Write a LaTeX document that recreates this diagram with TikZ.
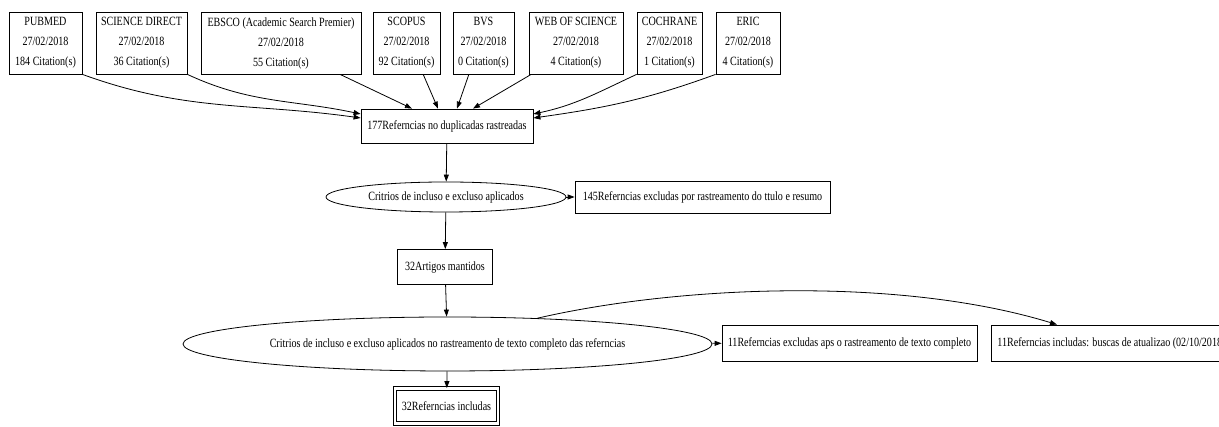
\documentclass[tikz,border=0pt]{standalone}
\usepackage{fontspec}
\setmainfont{Liberation Serif}[FakeStretch=0.8]
\usetikzlibrary{arrows.meta,shapes.geometric}

\begin{document}
\begin{tikzpicture}[x=1pt,y=1pt,
    base/.style ={draw, line width=0.8pt, font=\fontsize{12.6}{20}\selectfont, inner sep=0pt},
    source/.style ={base, rectangle, align=center, minimum height=62pt},
    stage/.style ={base, rectangle, minimum height=34pt},
    filter/.style ={base, ellipse},
    flow/.style ={line width=0.8pt, -{Triangle[length=7pt,width=5pt]}}]
   \useasboundingbox (0,0) rectangle (1219,427);

   % bases de dados
   \node[source, minimum width=73pt]  (pubmed)   at (45.5,384)  {PUBMED\\27/02/2018\\184 Citation(s)};
   \node[source, minimum width=91pt]  (scidir)   at (141.5,384) {SCIENCE DIRECT\\27/02/2018\\36 Citation(s)};
   \node[source, minimum width=160pt] (ebsco)    at (281,384)   {EBSCO (Academic Search Premier)\\27/02/2018\\55 Citation(s)};
   \node[source, minimum width=67pt]  (scopus)   at (406.5,384) {SCOPUS\\27/02/2018\\92 Citation(s)};
   \node[source, minimum width=61pt]  (bvs)      at (483.5,384) {BVS\\27/02/2018\\0 Citation(s)};
   \node[source, minimum width=94pt]  (wos)      at (576,384)   {WEB OF SCIENCE\\27/02/2018\\4 Citation(s)};
   \node[source, minimum width=65pt]  (cochrane) at (669.5,384) {COCHRANE\\27/02/2018\\1 Citation(s)};
   \node[source, minimum width=64pt]  (eric)     at (748,384)   {ERIC\\27/02/2018\\4 Citation(s)};

   % etapas
   \node[stage, minimum width=172pt] (refs)    at (447,301)   {177Referncias no duplicadas rastreadas};
   \node[filter, minimum width=240pt, minimum height=30pt] (crit1) at (446,230) {Critrios de incluso e excluso aplicados};
   \node[stage, minimum width=255pt, minimum height=32pt] (excl1) at (702.5,230) {145Referncias excludas por rastreamento do ttulo e resumo};
   \node[stage, minimum width=95pt, minimum height=35pt]  (artigos) at (445,160) {32Artigos mantidos};
   \node[filter, minimum width=529pt, minimum height=54pt] (crit2) at (447.5,83) {Critrios de incluso e excluso aplicados no rastreamento de texto completo das referncias};
   \node[stage, minimum width=255pt, minimum height=36pt] (excl2) at (849.5,84) {11Referncias excludas aps o rastreamento de texto completo};
   \node[stage, minimum height=36pt, anchor=west, inner xsep=6pt] (incl2) at (991,84) {11Referncias includas: buscas de atualizao (02/10/2018)};
   \node[stage, double, double distance=2.5pt, minimum width=103pt, minimum height=35pt] (final) at (446.5,21) {32Referncias includas};

   \draw[flow] (pubmed.south east) to[out=-20,in=172] ([yshift=8pt]refs.west);
   \draw[flow] (scidir.south east) to[out=-25,in=168] ([yshift=12pt]refs.west);
   \draw[flow] (ebsco.-28) to ([xshift=-35pt]refs.north);
   \draw[flow] (scopus.-62) to ([xshift=-9pt]refs.north);
   \draw[flow] (bvs.-115) to ([xshift=10pt]refs.north);
   \draw[flow] (wos.-145) to ([xshift=26pt]refs.north);
   \draw[flow] (cochrane.south west) to[out=-155,in=12] ([yshift=12pt]refs.east);
   \draw[flow] (eric.south west) to[out=-160,in=8] ([yshift=8pt]refs.east);

   \draw[flow] (refs) to (crit1);
   \draw[flow] (crit1) to (excl1);
   \draw[flow] (crit1) to (artigos);
   \draw[flow] (artigos) to (crit2);
   \draw[flow] (crit2) to (excl2);
   \draw[flow] (crit2.16) .. controls +(143,33) and +(-157,48) .. ([xshift=66pt]incl2.north west);
   \draw[flow] (crit2) to (final);
 \end{tikzpicture}
\end{document}
